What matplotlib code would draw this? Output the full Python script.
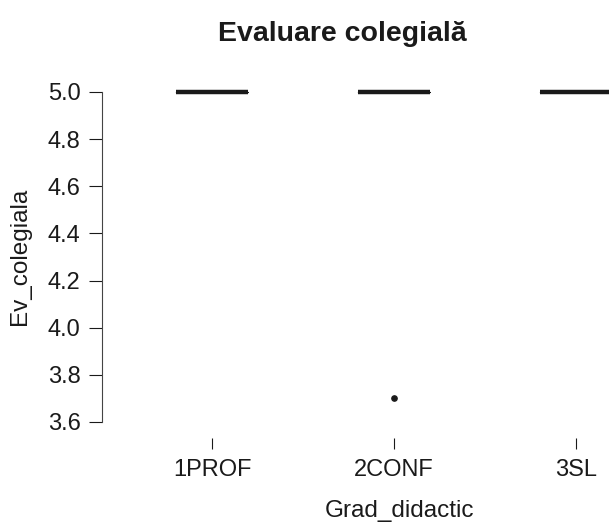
import matplotlib
matplotlib.use("Agg")
import matplotlib.pyplot as plt

# ---------------------------------------------------------------------------
# Data (degenerate boxes, all at 5.0; one outlier)
# ---------------------------------------------------------------------------
groups = ["1PROF", "2CONF", "3SL"]
medians = [5.0, 5.0, 5.0]
q1 = [5.0, 5.0, 5.0]
q3 = [5.0, 5.0, 5.0]
whislo = [5.0, 5.0, 5.0]
whishi = [5.0, 5.0, 5.0]
fliers = [[], [3.7], []]
y_ticks = [3.6, 3.8, 4.0, 4.2, 4.4, 4.6, 4.8, 5.0]

INK = "#1a1a1a"
plt.rcParams["font.family"] = ["Liberation Sans", "DejaVu Sans"]

stats = []
for i, g in enumerate(groups):
    stats.append({"label": g, "med": medians[i], "q1": q1[i], "q3": q3[i],
                  "whislo": whislo[i], "whishi": whishi[i], "fliers": fliers[i]})

W, H = 609, 524
fig = plt.figure(figsize=(W / 100, H / 100), dpi=100)
fig.patch.set_facecolor("white")

# plot region runs past the right edge (cropped in the reference)
left, right, top, bottom = 102, 692, 75, 438
ax = fig.add_axes([left / W, 1 - bottom / H, (right - left) / W, (bottom - top) / H])

ax.bxp(stats, positions=[1, 2, 3], widths=0.4,
       medianprops=dict(color=INK, linewidth=3.2, solid_capstyle="butt"),
       boxprops=dict(color=INK, linewidth=0.8),
       whiskerprops=dict(color=INK, linewidth=0.8, linestyle="--"),
       capprops=dict(color=INK, linewidth=0.8),
       flierprops=dict(marker="o", markersize=3.8, markerfacecolor=INK,
                       markeredgecolor=INK))

ax.set_xlim(0.395, 3.637)
ax.set_ylim(3.532, 5.072)

for s in ["top", "right", "bottom"]:
    ax.spines[s].set_visible(False)
ax.spines["left"].set_bounds(3.6, 5.0)
ax.spines["left"].set_color("#444444")
ax.spines["left"].set_linewidth(0.8)

ax.set_yticks(y_ticks)
ax.set_yticklabels([f"{v:.1f}" for v in y_ticks])
ax.tick_params(axis="y", length=9.5, width=0.8, color=INK, labelsize=17,
               labelcolor=INK, pad=6)
ax.set_xticks([1, 2, 3])
ax.set_xticklabels(groups)
ax.tick_params(axis="x", length=8, width=0.8, color=INK, labelsize=17,
               labelcolor=INK, pad=7, direction="out")

fig.text(20 / W, 1 - 256 / H, "Ev_colegiala", fontsize=17.5, color=INK,
         rotation=90, ha="center", va="center")
fig.text(400 / W, 1 - 511 / H, "Grad_didactic", fontsize=17.5, color=INK,
         ha="center", va="center")
fig.text(342 / W, 1 - 34 / H, "Evaluare colegială", fontsize=20.5,
         fontweight="bold", color=INK, ha="center", va="center")

fig.savefig("out.png", dpi=100, facecolor="white")
